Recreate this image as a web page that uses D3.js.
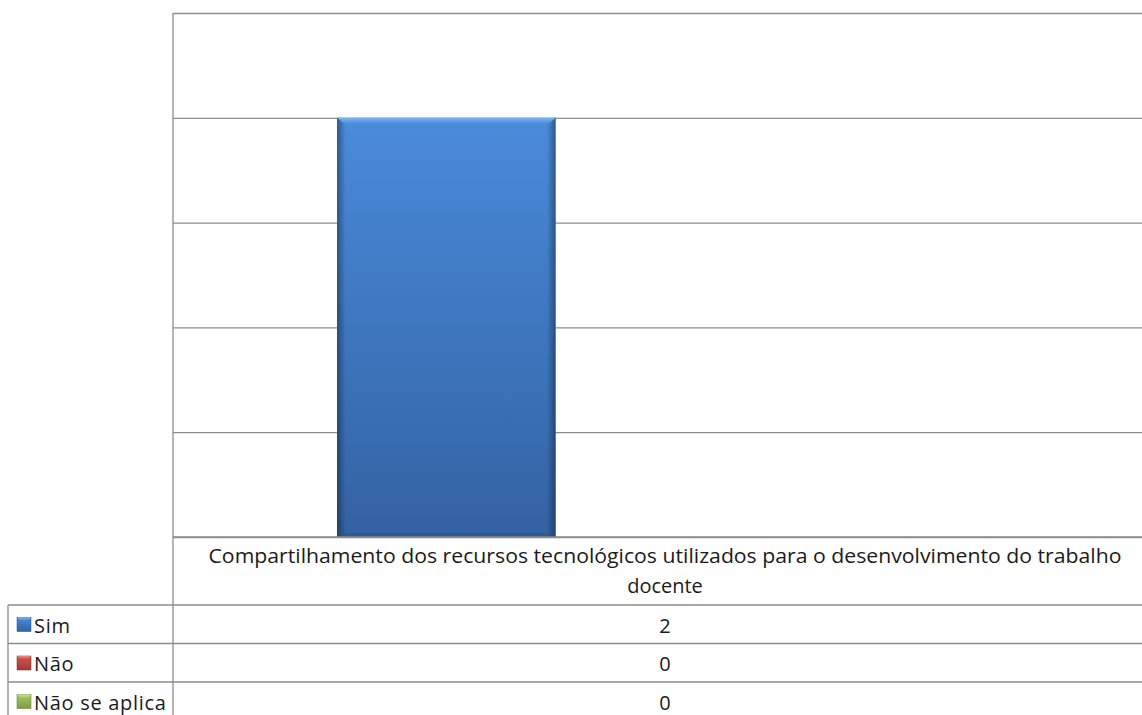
<!DOCTYPE html>
<html>
<head>
<meta charset="utf-8">
<script src="https://cdn.jsdelivr.net/npm/d3@7"></script>
<style>
  html, body { margin: 0; padding: 0; background: #fff; }
  svg { display: block; }
  text { font-family: "Open Sans", "DejaVu Sans", sans-serif; fill: #1a1a1a; }
</style>
</head>
<body>
<svg id="chart" width="1142" height="715"></svg>
<script>
// ---- data ----
const categories = ["Compartilhamento dos recursos tecnológicos utilizados para o desenvolvimento do trabalho docente"];
const categoryLines = ["Compartilhamento dos recursos tecnológicos utilizados para o desenvolvimento do trabalho", "docente"];
const seriesNames = ["Sim", "Não", "Não se aplica"];
const simValues = [2];
const naoValues = [0];
const naoSeAplicaValues = [0];
const yTickValues = [0, 0.5, 1, 1.5, 2, 2.5];

const seriesValues = [simValues, naoValues, naoSeAplicaValues];
const seriesColors = [
  { top: "#4a8bdb", bottom: "#3362a2", light: "#7db6f2", dark: "#2a4f82" },
  { top: "#d0544f", bottom: "#a23a36", light: "#e88a86", dark: "#7e2926" },
  { top: "#a7c865", bottom: "#7f9c43", light: "#c8e294", dark: "#607733" }
];

// ---- layout ----
const W = 1142, H = 715;
const plotLeft = 173, plotTop = 13, plotBottom = 537, catRight = 1157;
const tableTop = 605, rowH = 38.5, legendLeft = 8;
const gridColor = "#8d8d8d";
const fs = 20;

const svg = d3.select("#chart");
const defs = svg.append("defs");

seriesColors.forEach((c, i) => {
  const g = defs.append("linearGradient").attr("id", "vg" + i)
    .attr("x1", 0).attr("y1", 0).attr("x2", 0).attr("y2", 1);
  g.append("stop").attr("offset", "0%").attr("stop-color", c.top);
  g.append("stop").attr("offset", "100%").attr("stop-color", c.bottom);
  const t = defs.append("linearGradient").attr("id", "tg" + i)
    .attr("x1", 0).attr("y1", 0).attr("x2", 0).attr("y2", 1);
  t.append("stop").attr("offset", "0%").attr("stop-color", c.light);
  t.append("stop").attr("offset", "100%").attr("stop-color", c.top);
});
const hg = defs.append("linearGradient").attr("id", "edge")
  .attr("x1", 0).attr("y1", 0).attr("x2", 1).attr("y2", 0);
[[0, 0.35], [0.04, 0], [0.96, 0], [1, 0.35]].forEach(([o, a]) =>
  hg.append("stop").attr("offset", (o * 100) + "%").attr("stop-color", "#000").attr("stop-opacity", a));

// ---- scales ----
const x0 = d3.scaleBand().domain(categories).range([plotLeft, catRight]).padding(0);
const x1 = d3.scaleBand().domain(seriesNames).range([0, x0.bandwidth()])
  .paddingInner(0).paddingOuter(0.75);
const y = d3.scaleLinear().domain([0, 2.5]).range([plotBottom, plotTop]);

// ---- gridlines ----
const grid = svg.append("g").attr("transform", `translate(${plotLeft},0)`)
  .call(d3.axisLeft(y).tickValues(yTickValues).tickSize(-(W - plotLeft)).tickSizeOuter(0).tickFormat(""));
grid.select(".domain").remove();
grid.selectAll(".tick line").attr("stroke", gridColor).attr("stroke-width", 1.3);

// ---- bars ----
const barG = svg.append("g");
categories.forEach((cat, ci) => {
  seriesNames.forEach((s, si) => {
    const v = seriesValues[si][ci];
    if (!(v > 0)) return;
    const bx = x0(cat) + x1(s), bw = x1.bandwidth();
    const by = y(v), bh = y(0) - y(v);
    barG.append("rect").attr("x", bx).attr("y", by).attr("width", bw).attr("height", bh)
      .attr("fill", `url(#vg${si})`);
    barG.append("rect").attr("x", bx).attr("y", by).attr("width", bw).attr("height", bh)
      .attr("fill", "url(#edge)");
    barG.append("path")
      .attr("d", `M${bx},${by}H${bx + bw}L${bx + bw - 7},${by + 6}H${bx + 7}Z`)
      .attr("fill", `url(#tg${si})`);
    barG.append("path")
      .attr("d", `M${bx},${by + bh}H${bx + bw}L${bx + bw - 5},${by + bh - 4}H${bx + 5}Z`)
      .attr("fill", seriesColors[si].dark).attr("opacity", 0.5);
  });
});

// ---- frame / table lines ----
const lines = svg.append("g").attr("stroke", gridColor).attr("stroke-width", 1.3);
lines.append("line").attr("x1", plotLeft).attr("x2", plotLeft).attr("y1", plotTop).attr("y2", H);
lines.append("line").attr("x1", plotLeft).attr("x2", W).attr("y1", y(0)).attr("y2", y(0));
seriesNames.forEach((s, i) => {
  const ry = tableTop + i * rowH;
  lines.append("line").attr("x1", legendLeft).attr("x2", W).attr("y1", ry).attr("y2", ry);
});
lines.append("line").attr("x1", legendLeft).attr("x2", legendLeft).attr("y1", tableTop).attr("y2", H);

// ---- category label ----
const catCenter = x0(categories[0]) + x0.bandwidth() / 2;
svg.append("text").attr("x", catCenter).attr("y", 563).attr("text-anchor", "middle")
  .attr("font-size", fs).attr("textLength", 913).attr("lengthAdjust", "spacingAndGlyphs")
  .text(categoryLines[0]);
svg.append("text").attr("x", catCenter).attr("y", 593).attr("text-anchor", "middle")
  .attr("font-size", fs).text(categoryLines[1]);

// ---- table rows ----
seriesNames.forEach((s, si) => {
  const ry = tableTop + si * rowH;
  svg.append("rect").attr("x", 17).attr("y", ry + 12.5).attr("width", 14).attr("height", 14)
    .attr("fill", `url(#vg${si})`).attr("stroke", seriesColors[si].dark).attr("stroke-width", 0.5);
  svg.append("path")
    .attr("d", `M17,${ry + 12.5}h14l-3,3h-8z`).attr("fill", `url(#tg${si})`);
  svg.append("text").attr("x", 34).attr("y", ry + 27.5).attr("font-size", fs)
    .attr("letter-spacing", 0.7).text(s);
  categories.forEach((cat, ci) => {
    svg.append("text").attr("x", x0(cat) + x0.bandwidth() / 2).attr("y", ry + 27.5)
      .attr("text-anchor", "middle").attr("font-size", fs).text(seriesValues[si][ci]);
  });
});
</script>
</body>
</html>
